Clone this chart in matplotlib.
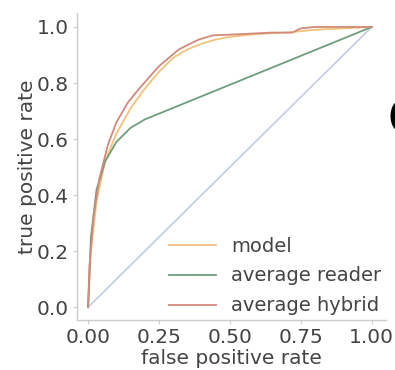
import matplotlib
matplotlib.use("Agg")
import matplotlib.pyplot as plt

# ROC data
model_fpr = [0, 0.01, 0.03, 0.06, 0.10, 0.15, 0.20, 0.25, 0.30, 0.35, 0.40, 0.45, 0.50, 0.60, 0.70, 0.80, 0.90, 1.0]
model_tpr = [0, 0.20, 0.38, 0.52, 0.62, 0.71, 0.78, 0.84, 0.89, 0.92, 0.94, 0.955, 0.965, 0.975, 0.98, 0.99, 0.995, 1.0]

reader_fpr = [0, 0.01, 0.03, 0.06, 0.10, 0.15, 0.20, 1.0]
reader_tpr = [0, 0.25, 0.42, 0.52, 0.59, 0.64, 0.67, 1.0]

hybrid_fpr = [0, 0.005, 0.02, 0.04, 0.07, 0.10, 0.14, 0.18, 0.25, 0.32, 0.39, 0.44, 0.55, 0.65, 0.72, 0.75, 0.80, 1.0]
hybrid_tpr = [0, 0.15, 0.33, 0.46, 0.58, 0.66, 0.73, 0.78, 0.86, 0.92, 0.955, 0.97, 0.975, 0.98, 0.98, 0.995, 1.0, 1.0]

chance = [0, 1]

labels = ["model", "average reader", "average hybrid"]
xticks = [0.0, 0.25, 0.5, 0.75, 1.0]
yticks = [0.0, 0.2, 0.4, 0.6, 0.8, 1.0]

text_c = "#444444"
spine_c = "#cccccc"

fig = plt.figure(figsize=(3.95, 3.70), dpi=100)
ax = fig.add_axes([0.195, 0.135, 0.782, 0.83])

ax.plot(chance, chance, color="#c5d0e2", lw=1.3)
ax.plot(model_fpr, model_tpr, color="#f2c27a", lw=1.3, label=labels[0])
ax.plot(reader_fpr, reader_tpr, color="#6e9e7c", lw=1.3, label=labels[1])
ax.plot(hybrid_fpr, hybrid_tpr, color="#d28a7c", lw=1.3, label=labels[2])

ax.set_xlim(-0.039, 1.05)
ax.set_ylim(-0.046, 1.05)
ax.set_xticks(xticks)
ax.set_yticks(yticks)
ax.set_xticklabels(["%.2f" % v for v in xticks])
ax.set_yticklabels(["%.1f" % v for v in yticks])

for s in ["top", "right"]:
    ax.spines[s].set_visible(False)
for s in ["left", "bottom"]:
    ax.spines[s].set_color(spine_c)
    ax.spines[s].set_linewidth(1.0)

ax.tick_params(axis="both", colors=spine_c, labelcolor=text_c, labelsize=14.5, length=3, pad=3)
ax.set_xlabel("false positive rate", fontsize=14.5, color=text_c, labelpad=1)
ax.set_ylabel("true positive rate", fontsize=14.5, color=text_c, labelpad=0)

leg = ax.legend(loc="lower right", frameon=False, fontsize=14, handlelength=2.4,
                labelspacing=0.56, borderaxespad=0.0, handletextpad=0.8,
                bbox_to_anchor=(1.01, -0.01))
for t in leg.get_texts():
    t.set_color(text_c)

fig.text(388 / 395, 1 - 135 / 370, "C", fontsize=37, fontweight="bold",
         color="black", ha="left", va="baseline")

fig.savefig("out.png", dpi=100)
